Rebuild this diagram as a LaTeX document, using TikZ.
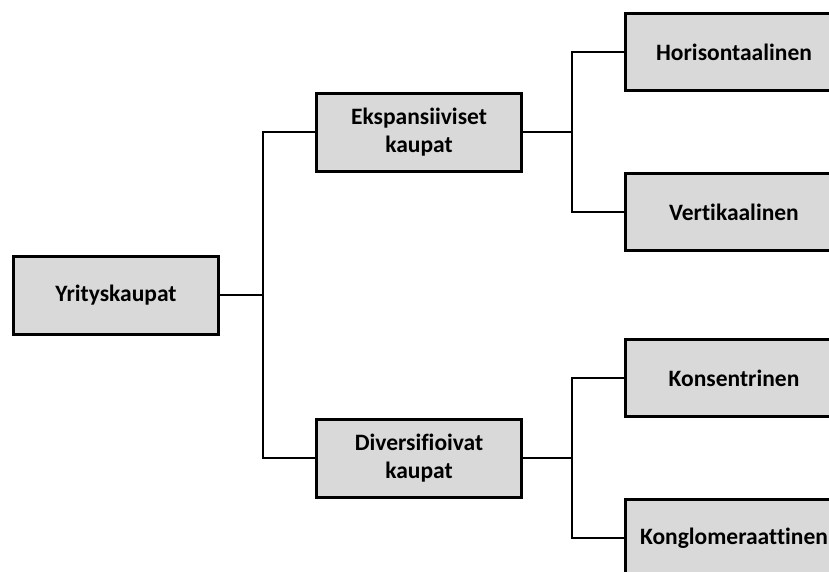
\documentclass[tikz,border=0pt]{standalone}
\usepackage{fontspec}
\setmainfont{Carlito}[Ligatures=NoCommon]
\usepackage{tikz}
\usetikzlibrary{positioning}

\begin{document}
\begin{tikzpicture}[x=1pt,y=1pt,node distance=92pt,line width=2.5pt]
  \tikzstyle{box}=[draw,line width=3pt,fill={rgb:black,15;white,85},align=center,inner sep=0pt,
                   minimum width=205pt,minimum height=78pt,font=\fontsize{23.5}{28.5}\selectfont\bfseries]
  \tikzstyle{leaf}=[box,minimum width=217pt,minimum height=77pt]

  \useasboundingbox (0,0) rectangle (829,-571);
  \clip (0,0) rectangle (829,-571);

  \node[box]  (root) at (116,-295)                       {Yrityskaupat};
  \node[box]  (eksp) [above right=82pt and 95pt of root] {Ekspansiiviset\\kaupat};
  \node[box]  (div)  [below right=82pt and 95pt of root] {Diversifioivat\\kaupat};

  \node[leaf] (hor)  [right=101pt of eksp,yshift=80pt]   {Horisontaalinen};
  \node[leaf] (vert) [right=101pt of eksp,yshift=-80pt]  {Vertikaalinen};
  \node[leaf] (kons) [right=101pt of div,yshift=80pt]    {Konsentrinen};
  \node[leaf] (kong) [right=101pt of div,yshift=-80pt]   {Konglomeraattinen};

  \draw (root.east) -- ++(43,0) |- (eksp.west);
  \draw (root.east) -- ++(43,0) |- (div.west);

  \draw (eksp.east) -- ++(49,0) |- (hor.west);
  \draw (eksp.east) -- ++(49,0) |- (vert.west);
  \draw (div.east)  -- ++(49,0) |- (kons.west);
  \draw (div.east)  -- ++(49,0) |- (kong.west);
\end{tikzpicture}
\end{document}
